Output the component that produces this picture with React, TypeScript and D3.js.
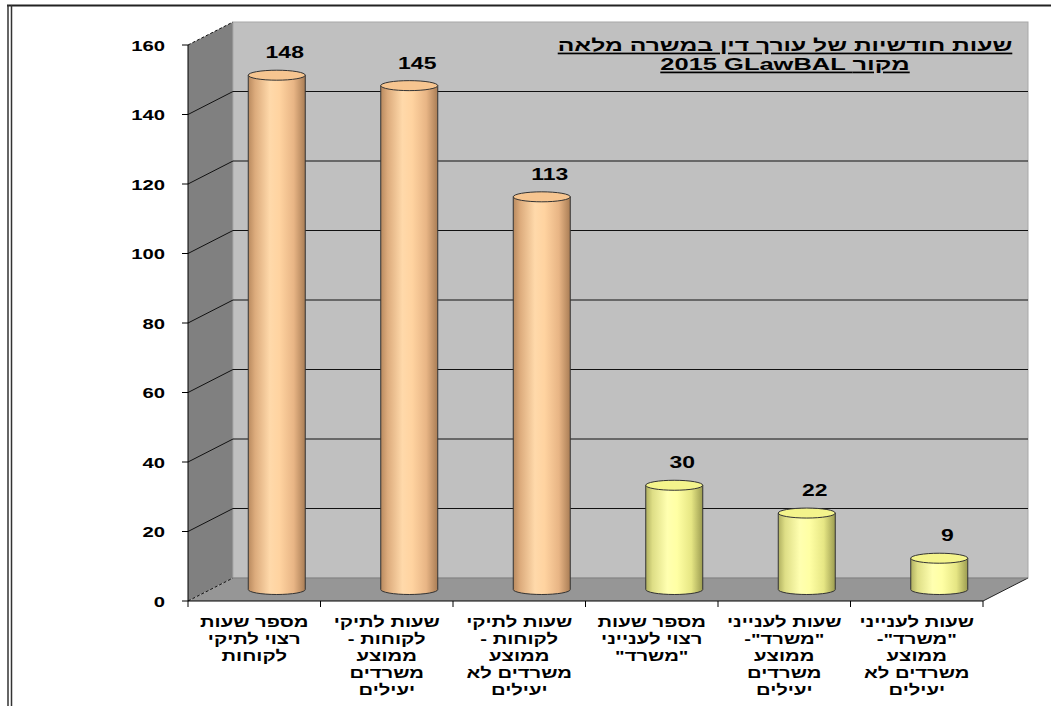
import React from "react";
import * as d3 from "d3";

const categories: string[][] = [
  ["מספר שעות", "רצוי לתיקי", "לקוחות"],
  ["שעות לתיקי", "לקוחות -", "ממוצע", "משרדים", "יעילים"],
  ["שעות לתיקי", "לקוחות -", "ממוצע", "משרדים לא", "יעילים"],
  ["מספר שעות", "רצוי לענייני", "\"משרד\""],
  ["שעות לענייני", "\"משרד\"-", "ממוצע", "משרדים", "יעילים"],
  ["שעות לענייני", "\"משרד\"-", "ממוצע", "משרדים לא", "יעילים"],
];
const values: number[] = [148, 145, 113, 30, 22, 9];
const groups: string[] = ["orange", "orange", "orange", "yellow", "yellow", "yellow"];
const yTicks: number[] = [0, 20, 40, 60, 80, 100, 120, 140, 160];
const titleLine1 = "שעות חודשיות של עורך דין במשרה מלאה";
const titleLine2 = "2015 GLawBAL  מקור ";

const W = 1051;
const H = 706;
const FONT = "Arial, 'Liberation Sans', 'DejaVu Sans', sans-serif";
const SX = 1.35;

export default function App() {
  const x0 = 188, x1 = 983;
  const dx = 45, dy = -23;
  const y = d3.scaleLinear().domain([0, 160]).range([601, 45]);
  const idx = categories.map((_, i) => String(i));
  const x = d3.scaleBand().domain(idx).range([x0, x1]).paddingInner(0).paddingOuter(0);
  const bw = 57;
  const rx = bw / 2, ry = 5;
  const floorY = y(0);

  const gradStops: Record<string, [number, string][]> = {
    orange: [
      [0, "#b98a5f"], [0.12, "#dcab7c"], [0.38, "#ffd9aa"], [0.55, "#ffd3a0"], [0.8, "#e8b585"], [1, "#a97d55"],
    ],
    yellow: [
      [0, "#b0b060"], [0.12, "#dede86"], [0.38, "#ffffb0"], [0.55, "#ffffa4"], [0.8, "#e6e684"], [1, "#9c9c50"],
    ],
  };
  const topFill: Record<string, string> = { orange: "#f6c590", yellow: "#f4f48c" };

  return (
    <svg width={W} height={H} style={{ position: "absolute", left: 0, top: 0, background: "#fff" }}>
      <defs>
        {Object.keys(gradStops).map((k) => (
          <linearGradient key={k} id={"g-" + k} x1="0" x2="1" y1="0" y2="0">
            {gradStops[k].map(([o, c], i) => (
              <stop key={i} offset={o} stopColor={c} />
            ))}
          </linearGradient>
        ))}
      </defs>
      {/* outer frame */}
      <line x1={7} x2={W} y1={5.5} y2={5.5} stroke="#222" strokeWidth={2} />
      <line x1={8} x2={8} y1={5} y2={H} stroke="#333" strokeWidth={1.5} />
      <line x1={11.5} x2={11.5} y1={5} y2={H} stroke="#333" strokeWidth={1.5} />

      {/* side wall */}
      <polygon
        points={`${x0},${y(160)} ${x0 + dx},${y(160) + dy} ${x0 + dx},${floorY + dy} ${x0},${floorY}`}
        fill="#808080"
      />
      {/* back wall */}
      <rect x={x0 + dx} y={y(160) + dy} width={x1 - x0} height={floorY - y(160)} fill="#c0c0c0" stroke="#a8a8a8" />
      {/* floor */}
      <polygon
        points={`${x0},${floorY} ${x0 + dx},${floorY + dy} ${x1 + dx},${floorY + dy} ${x1},${floorY}`}
        fill="#969696"
      />
      <line x1={x1} y1={floorY} x2={x1 + dx} y2={floorY + dy} stroke="#222" strokeWidth={1} />
      <line x1={x0 + dx} y1={floorY + dy} x2={x1 + dx} y2={floorY + dy} stroke="#808080" strokeWidth={1} />

      {/* gridlines */}
      {yTicks.map((t) => {
        const yy = y(t);
        const edge = t === 0 || t === 160;
        return (
          <g key={t}>
            <line
              x1={x0} y1={yy} x2={x0 + dx} y2={yy + dy}
              stroke="#111" strokeWidth={1} strokeDasharray={edge ? "3,2" : undefined}
            />
            {!edge && <line x1={x0 + dx} y1={yy + dy} x2={x1 + dx} y2={yy + dy} stroke="#111" strokeWidth={1} />}
          </g>
        );
      })}

      {/* axes */}
      <line x1={x0} x2={x0} y1={y(160)} y2={floorY} stroke="#000" strokeWidth={1} />
      {yTicks.map((t) => (
        <g key={"yt" + t}>
          <line x1={x0 - 6} x2={x0} y1={y(t)} y2={y(t)} stroke="#000" />
          <text
            transform={`translate(165,${y(t) + 5.5}) scale(${SX},1)`}
            textAnchor="end"
            fontFamily={FONT}
            fontWeight="bold"
            fontSize={15}
            fill="#000"
          >
            {t}
          </text>
        </g>
      ))}
      <line x1={x0} x2={x1} y1={floorY} y2={floorY} stroke="#000" />
      {d3.range(idx.length + 1).map((i) => {
        const xx = x0 + i * x.bandwidth();
        return <line key={"xt" + i} x1={xx} x2={xx} y1={floorY} y2={floorY + 6} stroke="#000" />;
      })}

      {/* bars */}
      {values.map((v, i) => {
        const cx = (x(String(i)) as number) + x.bandwidth() / 2 + dx / 2;
        const yTop = y(v) + dy / 2;
        const yBot = floorY + dy / 2;
        const g = groups[i];
        return (
          <g key={"b" + i}>
            <path
              d={`M${cx - rx},${yTop} L${cx - rx},${yBot} A${rx},${ry} 0 0 0 ${cx + rx},${yBot} L${cx + rx},${yTop} Z`}
              fill={`url(#g-${g})`}
              stroke="#333"
              strokeWidth={1}
            />
            <ellipse cx={cx} cy={yTop} rx={rx} ry={ry} fill={topFill[g]} stroke="#333" strokeWidth={1} />
            <text
              transform={`translate(${cx + 8},${yTop - 17}) scale(${SX},1)`}
              textAnchor="middle"
              fontFamily={FONT}
              fontWeight="bold"
              fontSize={17}
              fill="#000"
            >
              {v}
            </text>
          </g>
        );
      })}

      {/* category labels */}
      {categories.map((lines, i) => {
        const cx = (x(String(i)) as number) + x.bandwidth() / 2;
        return (
          <g key={"c" + i}>
            {lines.map((ln, j) => (
              <text
                key={j}
                transform={`translate(${cx},${627 + j * 17}) scale(${SX},1)`}
                textAnchor="middle"
                direction="rtl"
                fontFamily={FONT}
                fontWeight="bold"
                fontSize={15}
                fill="#000"
              >
                {ln}
              </text>
            ))}
          </g>
        );
      })}

      {/* title */}
      <text
        transform={`translate(785,51) scale(1.45,1)`}
        textAnchor="middle"
        direction="rtl"
        fontFamily={FONT}
        fontWeight="bold"
        fontSize={17}
        textDecoration="underline"
        fill="#000"
      >
        {titleLine1}
      </text>
      <text
        transform={`translate(785,70) scale(1.5,1)`}
        textAnchor="middle"
        direction="ltr"
        fontFamily={FONT}
        fontWeight="bold"
        fontSize={17}
        textDecoration="underline"
        fill="#000"
      >
        {titleLine2}
      </text>
    </svg>
  );
}
